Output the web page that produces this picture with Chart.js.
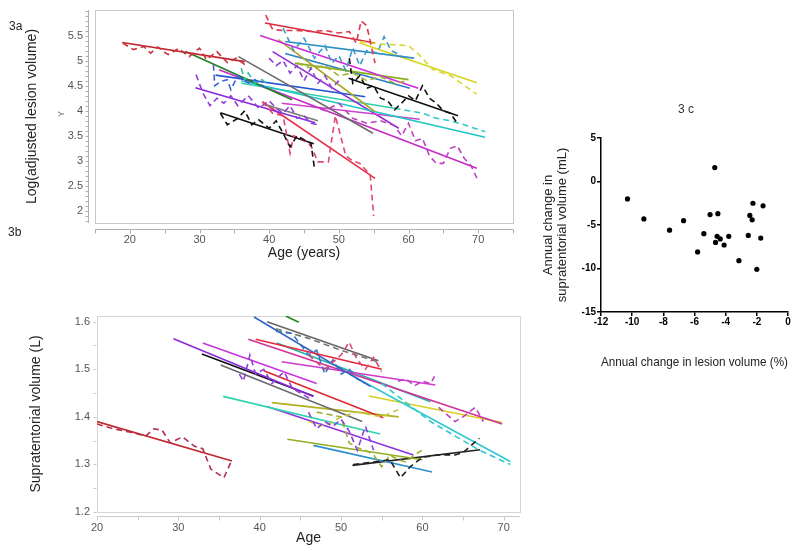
<!DOCTYPE html>
<html>
<head>
<meta charset="utf-8">
<script src="https://cdn.jsdelivr.net/npm/chart.js@4"></script>
<style>
  body { margin: 0; background: #fff; }
  #wrap { position: relative; width: 800px; height: 551px; background: #fff; font-family: "Liberation Sans", Arial, sans-serif; }
  canvas { position: absolute; }
  .lbl { position: absolute; color: #222; font-size: 12px; white-space: nowrap; }
</style>
</head>
<body>
<div id="wrap">
  <canvas id="chartA" width="530" height="265" style="left:0;top:0"></canvas>
  <canvas id="chartB" width="530" height="271" style="left:0;top:280px"></canvas>
  <canvas id="chartC" width="270" height="300" style="left:530px;top:100px"></canvas>
  <div class="lbl" style="left:9px;top:19px">3a</div>
  <div class="lbl" style="left:8px;top:225px">3b</div>
  <div class="lbl" style="left:678px;top:102px;color:#333">3 c</div>
  <div class="lbl" style="left:58px;top:109px;font-size:9px;color:#777;transform:rotate(-90deg)">Y</div>
</div>
<script>
// ---- 3a: log(adjusted lesion volume) vs age ----
const lesionTicksX = [20, 30, 40, 50, 60, 70];
const lesionTicksY = [2, 2.5, 3, 3.5, 4, 4.5, 5, 5.5];

// fitted lines: [start age, end age] and [start value, end value]
const lesionFitAges = [
  [18.9, 36.5], [39.4, 55.2], [38.7, 61.4], [42.3, 60.8], [53, 69.8],
  [41.3, 55.2], [43.7, 60], [35.6, 54.9], [39.5, 47], [28, 43.3],
  [32.3, 53.8], [29.4, 46.6], [33, 46.4], [51.4, 67.1], [36, 71],
  [39, 55.2], [32.8, 69.8], [41.8, 61.6], [40.5, 58.6], [36, 58], [42.3, 60.2]
];
const lesionFitValues = [
  [5.36, 4.98], [5.75, 5.35], [5.50, 4.45], [5.38, 5.05], [5.35, 4.56],
  [5.42, 3.98], [4.95, 4.62], [5.08, 3.55], [4.12, 3.80], [5.18, 4.22],
  [4.71, 4.28], [4.46, 3.76], [3.96, 3.34], [4.65, 3.90], [4.60, 3.47],
  [4.18, 2.65], [4.82, 2.85], [4.15, 3.83], [5.18, 3.65], [4.55, 4.05], [5.14, 4.45]
];

// observed (dashed) traces
const lesionTraceAges = [
  [19, 20.5, 22, 23, 24, 25.5, 27, 28.5, 30, 31, 32.5, 34, 35.3, 36.5],
  [39.5, 40.5, 42, 44, 46, 48, 50, 51.5, 52.5, 53.2, 54, 55.2],
  [53, 56, 60, 61.5, 63.5, 66, 69.8],
  [42, 43.5, 45, 46.5, 48, 49, 50, 51, 52, 53, 54, 55.5, 56.5, 57.5, 59],
  [33, 34, 35.5, 36.5, 37.5, 38.5, 40, 41, 42, 43, 44, 45, 46, 46.5],
  [51.5, 52, 53, 54, 55, 56, 57, 58, 59, 60, 61, 62, 63, 64, 65, 66, 67],
  [39, 40.5, 42, 43, 43.5, 44.5, 46, 47, 48.5, 49.5, 51, 52, 53, 54.5, 55],
  [46, 48, 50, 52, 54, 56, 58, 59, 60, 61, 62, 63, 64, 65, 66, 67, 68, 69, 70],
  [29.5, 30.5, 31.5, 32.5, 33.5, 34.5, 35.5, 37, 38.5, 40, 41, 42, 43, 44, 45, 46, 47],
  [32, 32.2, 33, 34, 34.5, 35.5, 37, 38, 39.5],
  [58, 60, 62, 64, 66, 68, 71],
  [40, 41, 42, 43, 44, 45, 46, 47, 48, 49, 50],
  [44, 46, 48, 50, 52, 54, 56, 58, 60],
  [36, 36.5, 37, 38, 39, 40]
];
const lesionTraceValues = [
  [5.35, 5.22, 5.28, 5.15, 5.27, 5.12, 5.24, 5.08, 5.25, 5.02, 5.18, 4.96, 5.05, 4.92],
  [5.91, 5.62, 5.60, 5.60, 5.58, 5.60, 5.55, 5.58, 5.35, 5.79, 5.70, 4.95],
  [5.38, 5.33, 5.30, 5.12, 4.82, 4.70, 4.33],
  [5.65, 5.20, 5.45, 5.05, 5.30, 4.95, 5.10, 4.80, 5.25, 4.90, 5.20, 5.15, 5.48, 5.20, 5.10],
  [3.95, 3.72, 3.85, 4.00, 3.72, 3.82, 3.65, 3.80, 3.55, 3.28, 3.50, 3.42, 3.35, 2.85],
  [5.05, 4.55, 4.70, 4.45, 4.50, 4.25, 4.20, 4.02, 4.15, 4.30, 4.20, 4.50, 4.25, 4.15, 4.00, 3.95, 3.75],
  [4.18, 3.95, 3.90, 3.15, 3.50, 3.45, 3.30, 2.98, 2.98, 3.90, 3.10, 3.00, 2.95, 2.72, 1.90],
  [4.10, 4.00, 4.15, 3.85, 3.75, 3.80, 3.70, 3.50, 3.75, 3.40, 3.45, 3.10, 2.95, 2.95, 3.25, 3.30, 3.05, 2.90, 2.60],
  [4.72, 4.35, 4.10, 4.25, 4.15, 4.30, 4.10, 4.30, 4.05, 4.20, 4.05, 3.95, 4.10, 3.85, 3.90, 3.75, 3.72],
  [4.92, 4.50, 4.58, 4.62, 4.42, 4.70, 4.55, 4.62, 4.45],
  [4.05, 4.00, 3.95, 3.85, 3.80, 3.72, 3.58],
  [5.05, 4.90, 5.00, 4.75, 4.90, 4.60, 4.85, 4.55, 4.70, 4.45, 4.60],
  [4.95, 4.85, 4.90, 4.70, 4.75, 4.60, 4.68, 4.55, 4.60],
  [4.85, 4.60, 4.75, 4.55, 4.62, 4.50]
];

// ---- 3b: supratentorial volume vs age ----
const supraTicksX = [20, 30, 40, 50, 60, 70];
const supraTicksY = [1.2, 1.3, 1.4, 1.5, 1.6];

const supraFitAges = [
  [20, 36.6], [29.4, 46.6], [32.9, 46.6], [35.2, 52.6], [33, 47],
  [35.5, 54.8], [40.9, 58.9], [39.5, 55], [40.5, 55.2], [39.3, 53.6],
  [40.9, 54.6], [43.2, 44.8], [38.6, 69.8], [42.7, 61.6], [42.1, 61],
  [51, 70.8], [53.4, 69.8], [41.5, 57.1], [43.4, 60], [46.6, 61.2], [51.4, 67.1]
];
const supraFitValues = [
  [1.390, 1.307], [1.564, 1.443], [1.532, 1.444], [1.509, 1.390], [1.555, 1.470],
  [1.443, 1.364], [1.422, 1.320], [1.563, 1.500], [1.497, 1.398], [1.610, 1.464],
  [1.600, 1.518], [1.612, 1.599], [1.563, 1.385], [1.516, 1.467], [1.555, 1.432],
  [1.490, 1.306], [1.444, 1.388], [1.430, 1.400], [1.353, 1.310], [1.340, 1.284], [1.298, 1.331]
];

const supraTraceAges = [
  [20, 22, 24, 26, 27, 28, 29, 30.5, 32, 33, 34, 35.6, 36.6],
  [51.5, 54, 56, 57.3, 58.5, 60, 62, 64, 65, 67],
  [37.5, 38, 38.8, 39.5, 40.5, 41.5, 43, 44, 45, 46.5],
  [46, 47, 48, 49, 50, 51, 52, 53, 54],
  [46, 48, 50, 51, 52, 53, 54, 55],
  [42, 44, 46, 47, 48, 49, 50, 51, 52, 53],
  [55, 58, 61, 64, 67, 70.8],
  [57, 58, 59, 60, 61, 61.5],
  [62, 64, 65, 66.5, 67.5],
  [47, 50, 51, 52, 53, 54, 55, 56, 57, 58, 59, 60],
  [46, 48, 50, 52, 55, 57],
  [42, 46, 50, 54.6]
];
const supraTraceValues = [
  [1.385, 1.375, 1.368, 1.360, 1.375, 1.372, 1.345, 1.358, 1.338, 1.333, 1.290, 1.272, 1.310],
  [1.300, 1.305, 1.310, 1.272, 1.295, 1.315, 1.320, 1.320, 1.325, 1.355],
  [1.490, 1.475, 1.530, 1.490, 1.500, 1.470, 1.495, 1.460, 1.450, 1.435],
  [1.410, 1.375, 1.390, 1.380, 1.395, 1.370, 1.330, 1.380, 1.330],
  [1.530, 1.500, 1.530, 1.557, 1.520, 1.500, 1.525, 1.495],
  [1.580, 1.575, 1.530, 1.540, 1.490, 1.520, 1.490, 1.500, 1.480, 1.470],
  [1.470, 1.430, 1.390, 1.360, 1.330, 1.300],
  [1.475, 1.480, 1.465, 1.475, 1.470, 1.485],
  [1.420, 1.390, 1.400, 1.420, 1.390],
  [1.410, 1.400, 1.345, 1.335, 1.330, 1.320, 1.295, 1.320, 1.310, 1.305, 1.320, 1.330],
  [1.390, 1.380, 1.400, 1.410, 1.400, 1.415],
  [1.585, 1.565, 1.540, 1.515]
];

// ---- 3c: annual change scatter ----
const lesionChangePct = [-10.3, -9.25, -7.6, -6.7, -5.8, -5.4, -5.0, -4.7, -4.65, -4.55, -4.5,
  -4.35, -4.1, -3.8, -3.15, -2.55, -2.45, -2.3, -2.25, -2.0, -1.75, -1.6];
const supraChangeMl = [-2.0, -4.3, -5.6, -4.5, -8.1, -6.0, -3.8, 1.6, -7.0, -6.3, -3.7,
  -6.6, -7.3, -6.3, -9.1, -6.2, -3.9, -4.4, -2.5, -10.1, -6.5, -2.8];
const changeTicksX = [-12, -10, -8, -6, -4, -2, 0];
const changeTicksY = [-15, -10, -5, 0, 5];

// ---- styles ----
const lesionFitColors = ["#c0262e", "#d8283a", "#d02bd8", "#2b8cc4", "#d4d31e", "#a8a82a", "#8ab020",
  "#6b6b6b", "#7a7a7a", "#1f7f24", "#2457d4", "#8a2ad8", "#111111", "#111111", "#1fc6c6",
  "#e8304a", "#c52bc5", "#d040d0", "#9030d0", "#30d0a8", "#2e7fc0"];
const lesionTraceColors = ["#c8303a", "#e0384a", "#d8d830", "#3a9ac8", "#111111", "#111111", "#e04870",
  "#c040c0", "#9040d8", "#3a60d8", "#30c8c8", "#9040d8", "#a0b030", "#30c0a0"];
const supraFitColors = ["#c0262e", "#8a2ad8", "#111111", "#6b6b6b", "#c832e0", "#2ed4b0", "#9030e0",
  "#e8283a", "#e02830", "#3060c8", "#666666", "#1a8a1a", "#d0309a", "#d03ad0", "#28b0a8",
  "#30c8d0", "#d8d020", "#b0b020", "#90b020", "#2a90d0", "#222222"];
const supraTraceColors = ["#b03050", "#222222", "#9040d8", "#9040d8", "#e04870", "#3a70c8", "#30c8d0",
  "#c040c0", "#c040c0", "#a0b030", "#c8c840", "#777777"];

const tickFont = { family: "Liberation Sans", size: 11 };
const titleFont = { family: "Liberation Sans", size: 14 };

function lineSets(ages, values, colors, dashed) {
  return ages.map((a, i) => ({
    data: a.map((x, j) => ({ x, y: values[i][j] })),
    borderColor: colors[i],
    borderWidth: dashed ? 1.6 : 1.6,
    borderDash: dashed ? [6, 4] : [],
    pointRadius: 0,
    tension: 0,
    fill: false,
  }));
}

// keep label overflow from pushing the plot area around
function noPad(s) {
  s.paddingTop = 0; s.paddingBottom = 0; s.paddingLeft = 0; s.paddingRight = 0;
}

// light frame + offset axis lines with small ticks
const framePlugin = {
  id: "frame",
  beforeDatasetsDraw(chart, args, o) {
    const { ctx, chartArea: a, scales: { x, y } } = chart;
    ctx.save();
    ctx.lineWidth = 1;
    ctx.strokeStyle = o.frame;
    ctx.strokeRect(Math.round(a.left) + 0.5, Math.round(a.top) + 0.5, Math.round(a.width), Math.round(a.height));
    ctx.strokeStyle = o.axis;
    ctx.beginPath();
    const lx = Math.round(a.left - o.gapY) + 0.5, by = Math.round(a.bottom + o.gapX) + 0.5;
    if (o.gapY > 1) { ctx.moveTo(lx, a.top); ctx.lineTo(lx, a.bottom); }
    ctx.moveTo(a.left, by); ctx.lineTo(a.right, by);
    for (let v = o.yFrom; v <= y.max + 1e-9; v += o.yStep) {
      const py = Math.round(y.getPixelForValue(v)) + 0.5;
      ctx.moveTo(lx, py); ctx.lineTo(lx - 3, py);
    }
    for (let v = o.xFrom; v <= x.max + 1e-9; v += o.xStep) {
      const px = Math.round(x.getPixelForValue(v)) + 0.5;
      ctx.moveTo(px, by); ctx.lineTo(px, by + 4);
    }
    ctx.stroke();
    ctx.restore();
  }
};

function ageAxis(min, max, ticks, height, pad, title, titlePad) {
  return {
    type: "linear", min, max,
    afterBuildTicks: s => { s.ticks = ticks.map(value => ({ value })); },
    afterFit: s => { s.height = height; noPad(s); },
    grid: { display: false, drawTicks: false },
    border: { display: false },
    ticks: { color: "#555", font: tickFont, padding: pad, maxRotation: 0, callback: v => String(v) },
    title: { display: true, text: title, color: "#222", font: titleFont, padding: { top: 0, bottom: titlePad } },
  };
}
function valueAxis(min, max, ticks, width, pad, title, titlePad) {
  return {
    type: "linear", min, max,
    afterBuildTicks: s => { s.ticks = ticks.map(value => ({ value })); },
    afterFit: s => { s.width = width; noPad(s); },
    grid: { display: false, drawTicks: false },
    border: { display: false },
    ticks: { color: "#555", font: tickFont, padding: pad, callback: v => String(v) },
    title: { display: true, text: title, color: "#222", font: titleFont, padding: { top: titlePad, bottom: 0 } },
  };
}

const common = {
  responsive: false,
  animation: false,
  events: [],
  plugins: { legend: { display: false }, tooltip: { enabled: false } },
};

new Chart(document.getElementById("chartA"), {
  type: "line",
  data: { datasets: [
    ...lineSets(lesionTraceAges, lesionTraceValues, lesionTraceColors, true),
    ...lineSets(lesionFitAges, lesionFitValues, lesionFitColors, false),
  ] },
  options: {
    ...common,
    layout: { padding: { left: 0, top: 10, right: 17, bottom: 0 } },
    plugins: { ...common.plugins, frame: { frame: "#c8c8c8", axis: "#b0b0b0", gapY: 7, gapX: 6, yFrom: 1.8, yStep: 0.1, xFrom: 15, xStep: 5 } },
    scales: {
      x: ageAxis(15, 75, lesionTicksX, 42, 10, "Age (years)", 3),
      y: valueAxis(1.76, 6.01, lesionTicksY, 95, 12, "Log(adjusted lesion volume)", 24),
    },
  },
  plugins: [framePlugin],
});

new Chart(document.getElementById("chartB"), {
  type: "line",
  data: { datasets: [
    ...lineSets(supraTraceAges, supraTraceValues, supraTraceColors, true),
    ...lineSets(supraFitAges, supraFitValues, supraFitColors, false),
  ] },
  options: {
    ...common,
    layout: { padding: { left: 0, top: 36, right: 10, bottom: 0 } },
    plugins: { ...common.plugins, frame: { frame: "#d5d5d5", axis: "#c8c8c8", gapY: 1, gapX: 4, yFrom: 1.2, yStep: 0.05, xFrom: 20, xStep: 5 } },
    scales: {
      x: ageAxis(20, 72, supraTicksX, 39, 9, "Age", 4),
      y: valueAxis(1.2, 1.612, supraTicksY, 97, 7, "Supratentorial volume (L)", 28),
    },
  },
  plugins: [framePlugin],
});

const boldTick = { family: "Liberation Sans", size: 10, weight: "bold" };
new Chart(document.getElementById("chartC"), {
  type: "scatter",
  data: { datasets: [{
    data: lesionChangePct.map((x, i) => ({ x, y: supraChangeMl[i] })),
    backgroundColor: "#000", borderWidth: 0, pointRadius: 2.6,
  }] },
  options: {
    ...common,
    layout: { padding: { left: 0, top: 38, right: 12, bottom: 0 } },
    scales: {
      x: {
        type: "linear", min: -12, max: 0,
        afterBuildTicks: s => { s.ticks = changeTicksX.map(value => ({ value })); },
        afterFit: s => { s.height = 88; noPad(s); },
        grid: { drawOnChartArea: false, drawTicks: true, tickLength: 4, color: "#000", lineWidth: 1.5 },
        border: { display: true, color: "#000", width: 1.5 },
        ticks: { color: "#000", font: boldTick, padding: 0, maxRotation: 0, callback: v => String(v) },
        title: { display: true, text: "Annual change in lesion volume (%)", color: "#222", font: { family: "Liberation Sans", size: 12.6, lineHeight: 1.1 }, padding: { top: 0, bottom: 31 } },
      },
      y: {
        type: "linear", min: -15, max: 5,
        afterBuildTicks: s => { s.ticks = changeTicksY.map(value => ({ value })); },
        afterFit: s => { s.width = 71; noPad(s); },
        grid: { drawOnChartArea: false, drawTicks: true, tickLength: 4, color: "#000", lineWidth: 1.5 },
        border: { display: true, color: "#000", width: 1.5 },
        ticks: { color: "#000", font: boldTick, padding: 1, callback: v => String(v) },
        title: { display: true, text: ["Annual change in", "supratentorial volume (mL)"], color: "#222", font: { family: "Liberation Sans", size: 13, lineHeight: 1.1 }, padding: { top: 11, bottom: 0 } },
      },
    },
  },
});
</script>
</body>
</html>
